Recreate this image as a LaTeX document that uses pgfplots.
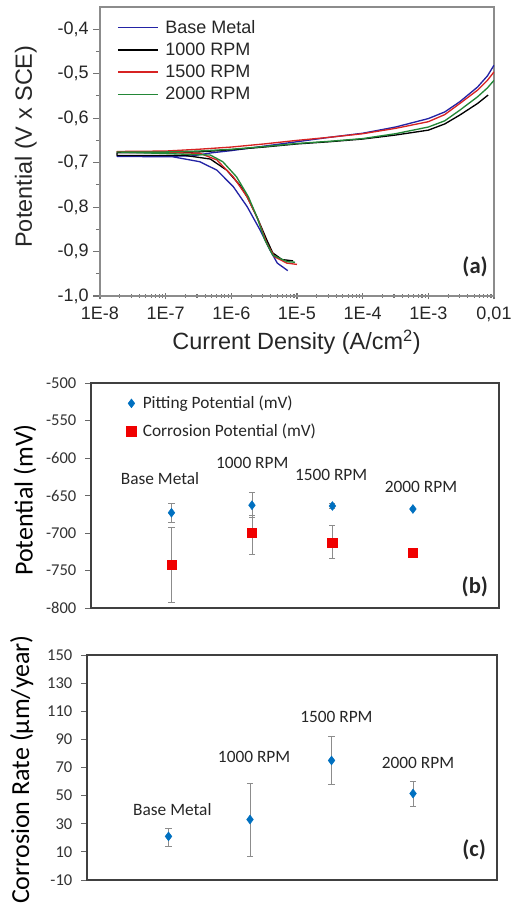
\documentclass[border=0pt]{standalone}
\usepackage{fontspec}
\setmainfont{Liberation Sans}
\newfontfamily\calibri{Carlito}
\usepackage{pgfplots}
\usepackage{pgfplotstable}
\pgfplotsset{compat=1.18}
\definecolor{cblue}{RGB}{35,35,165}
\definecolor{cred}{RGB}{215,35,35}
\definecolor{cgreen}{RGB}{35,135,55}
\definecolor{xlblue}{RGB}{0,112,192}
\definecolor{xlred}{RGB}{240,0,0}

% ---------- panel (a) data: current density (A/cm2), potential (V) ----------
\pgfplotstableread{
x y
7.24e-6 -0.943
5.01e-6 -0.926
3.89e-6 -0.897
2.75e-6 -0.852
1.74e-6 -0.799
1.07e-6 -0.754
6.03e-7 -0.717
3.31e-7 -0.698
1.29e-7 -0.687
1.82e-8 -0.686
2.5e-7 -0.685
5.0e-7 -0.678
1e-6 -0.673
3.16e-6 -0.663
1e-5 -0.653
3.16e-5 -0.643
1e-4 -0.634
3.16e-4 -0.620
1e-3 -0.601
1.78e-3 -0.586
3.02e-3 -0.563
5.62e-3 -0.530
7.94e-3 -0.505
1e-2 -0.481
}\base
\pgfplotstableread{
x y
8.71e-6 -0.921
5.89e-6 -0.918
4.27e-6 -0.903
3.47e-6 -0.874
2.45e-6 -0.822
1.74e-6 -0.777
1.35e-6 -0.751
8.51e-7 -0.717
4.79e-7 -0.692
2.0e-7 -0.684
1.82e-8 -0.684
1.82e-8 -0.678
1e-7 -0.678
3.16e-7 -0.676
1e-6 -0.671
3.16e-6 -0.665
1e-5 -0.658
3.16e-5 -0.653
1e-4 -0.647
3.16e-4 -0.638
1e-3 -0.627
1.78e-3 -0.613
3.02e-3 -0.593
5.62e-3 -0.567
8.13e-3 -0.548
}\rpmA
\pgfplotstableread{
x y
1.0e-5 -0.929
7.0e-6 -0.926
4.57e-6 -0.912
3.47e-6 -0.882
2.57e-6 -0.829
1.74e-6 -0.777
1.07e-6 -0.732
6.03e-7 -0.694
3.31e-7 -0.679
1.82e-8 -0.675
1e-7 -0.674
3.16e-7 -0.670
1e-6 -0.665
3.16e-6 -0.658
1e-5 -0.650
3.16e-5 -0.643
1e-4 -0.635
3.16e-4 -0.623
1e-3 -0.608
1.78e-3 -0.592
3.02e-3 -0.567
5.62e-3 -0.537
7.94e-3 -0.515
1e-2 -0.496
}\rpmB
\pgfplotstableread{
x y
9.33e-6 -0.924
7.08e-6 -0.923
4.27e-6 -0.908
3.24e-6 -0.874
2.45e-6 -0.822
1.82e-6 -0.777
1.20e-6 -0.732
7.41e-7 -0.698
4.79e-7 -0.683
1.82e-8 -0.676
1e-7 -0.676
3.16e-7 -0.674
1e-6 -0.670
3.16e-6 -0.664
1e-5 -0.657
3.16e-5 -0.652
1e-4 -0.646
3.16e-4 -0.635
1e-3 -0.620
1.78e-3 -0.606
3.02e-3 -0.582
5.62e-3 -0.552
7.94e-3 -0.532
1e-2 -0.515
}\rpmC

% ---------- panel (b) data ----------
\pgfplotstableread{
x y ep em
1 -673 13 13
2 -663 17 16
3 -664 3 3
4 -668 0 0
}\pitting
\pgfplotstableread{
x y ep em
1 -742 50 50
2 -700 23 28
3 -713 23 21
4 -726 0 0
}\corrosion

% ---------- panel (c) data ----------
\pgfplotstableread{
x y ep em
1 21 6 7
2 33 26 26
3 75 17 17
4 51.5 9 9
}\rate

\begin{document}
\begin{tikzpicture}[x=1pt,y=1pt]
% ===================== (a) =====================
\begin{axis}[
  at={(75pt,456.75pt)}, anchor=south west, scale only axis,
  width=295.5pt, height=216.75pt,
  xmode=log, xmin=1e-8, xmax=1e-2, ymin=-1.0, ymax=-0.35,
  xtick={1e-8,1e-7,1e-6,1e-5,1e-4,1e-3,1e-2},
  xticklabels={1E-8,1E-7,1E-6,1E-5,1E-4,1E-3,{0,01}},
  ytick={-1.0,-0.9,-0.8,-0.7,-0.6,-0.5,-0.4},
  yticklabels={{-1,0},{-0,9},{-0,8},{-0,7},{-0,6},{-0,5},{-0,4}},
  minor ytick={-0.95,-0.85,-0.75,-0.65,-0.55,-0.45},
  tick pos=left,
  axis line style={black!45, line width=1.1pt},
  tick style={black!55, line width=0.8pt},
  xtick align=center,
  ytick align=outside,
  major tick length=5pt, minor tick length=3pt,
  ticklabel style={font=\fontsize{13.5}{16}\selectfont, text=black!85},
  xticklabel style={yshift=-2pt},
  xlabel={Current Density (A/cm\textsuperscript{2})},
  ylabel={Potential (V x SCE)},
  every axis x label/.style={at={(axis description cs:0.499,-0.159)}, anchor=center,
    font=\fontsize{17.6}{20}\selectfont, text=black!85},
  every axis y label/.style={at={(axis description cs:-0.188,0.517)}, rotate=90, anchor=center,
    font=\fontsize{17.6}{20}\selectfont, text=black!85},
  legend style={at={(0.043,0.965)}, anchor=north west, draw=none, fill=none,
    font=\fontsize{13.5}{16}\selectfont, row sep=1.7pt, inner sep=0pt,
    cells={anchor=west}, text=black!85,
    /tikz/every odd column/.append style={column sep=3pt}},
  legend image code/.code={\draw[#1, line width=1.1pt] (0pt,0pt) -- (30pt,0pt);},
  every axis plot/.append style={line width=1pt, line join=round},
]
\addplot[color=cblue] table {\base};
\addlegendentry{Base Metal}
\addplot[color=black] table {\rpmA};
\addlegendentry{1000 RPM}
\addplot[color=cred] table {\rpmB};
\addlegendentry{1500 RPM}
\addplot[color=cgreen] table {\rpmC};
\addlegendentry{2000 RPM}
\node[font=\calibri\bfseries\fontsize{17}{20}\selectfont, text=black!85] at (rel axis cs:0.952,0.10) {(a)};
\end{axis}

% ===================== (b) =====================
\begin{axis}[
  at={(68.25pt,222.75pt)}, anchor=south west, scale only axis,
  width=306pt, height=168.75pt, clip=false,
  xmin=0, xmax=5.07, ymin=-800, ymax=-500,
  ytick={-800,-750,-700,-650,-600,-550,-500},
  xtick=\empty,
  ytick pos=left, ytick align=outside, major tick length=4.5pt,
  axis line style={black!75, line width=0.8pt},
  tick style={black!60, line width=0.6pt},
  /pgf/number format/assume math mode=true,
  yticklabel style={font=\calibri\fontsize{12.4}{14}\selectfont, text=black!80, xshift=-3pt},
  ylabel={Potential (mV)},
  every axis y label/.style={at={(axis description cs:-0.162,0.48)}, rotate=90, anchor=center,
    font=\calibri\fontsize{19.5}{22}\selectfont},
  legend style={at={(0.087,0.955)}, anchor=north west, draw=none, fill=none,
    font=\calibri\fontsize{13}{15.6}\selectfont, row sep=6pt, inner sep=0pt,
    cells={anchor=west}, text=black!85,
    /tikz/every odd column/.append style={column sep=3pt}},
  legend image code/.code={\draw[#1] plot coordinates {(2pt,0pt)};},
]
\addplot[only marks, mark=diamond*, mark size=3.3pt, color=xlblue,
  error bars/.cd, y dir=both, y explicit,
  error bar style={black!45, line width=0.6pt, mark size=2.3pt}]
  table[x=x, y=y, y error plus=ep, y error minus=em] {\pitting};
\addlegendentry{Pitting Potential (mV)}
\addplot[only marks, mark=square*, mark size=3.5pt, color=xlred,
  error bars/.cd, y dir=both, y explicit,
  error bar style={black!45, line width=0.6pt, mark size=2.3pt}]
  table[x=x, y=y, y error plus=ep, y error minus=em] {\corrosion};
\addlegendentry{Corrosion Potential (mV)}
\begin{scope}[every node/.style={font=\calibri\fontsize{13}{15.6}\selectfont, text=black!85}]
\node at (axis cs:0.858,-627) {Base Metal};
\node at (axis cs:2.004,-607) {1000 RPM};
\node at (axis cs:2.984,-623) {1500 RPM};
\node at (axis cs:4.10,-639) {2000 RPM};
\end{scope}
\node[font=\calibri\bfseries\fontsize{17}{20}\selectfont, text=black!85] at (axis cs:4.77,-771.6) {(b)};
\end{axis}

% ===================== (c) =====================
\begin{axis}[
  at={(65.25pt,18.75pt)}, anchor=south west, scale only axis,
  width=307.5pt, height=168.75pt, clip=false,
  xmin=0, xmax=5.03, ymin=-10, ymax=150,
  ytick={-10,10,30,50,70,90,110,130,150},
  xtick=\empty,
  ytick pos=left, ytick align=outside, major tick length=4.5pt,
  axis line style={black!75, line width=0.8pt},
  tick style={black!60, line width=0.6pt},
  /pgf/number format/assume math mode=true,
  yticklabel style={font=\calibri\fontsize{12.4}{14}\selectfont, text=black!80, xshift=-3pt},
  ylabel={Corrosion Rate (µm/year)},
  every axis y label/.style={at={(axis description cs:-0.159,0.491)}, rotate=90, anchor=center,
    font=\calibri\fontsize{19.5}{22}\selectfont},
]
\addplot[only marks, mark=diamond*, mark size=3.3pt, color=xlblue,
  error bars/.cd, y dir=both, y explicit,
  error bar style={black!45, line width=0.6pt, mark size=2.3pt}]
  table[x=x, y=y, y error plus=ep, y error minus=em] {\rate};
\begin{scope}[every node/.style={font=\calibri\fontsize{13}{15.6}\selectfont, text=black!85}]
\node at (axis cs:1.047,39.8) {Base Metal};
\node at (axis cs:2.05,77.7) {1000 RPM};
\node at (axis cs:3.06,105.7) {1500 RPM};
\node at (axis cs:4.06,73.4) {2000 RPM};
\end{scope}
\node[font=\calibri\bfseries\fontsize{17}{20}\selectfont, text=black!85] at (axis cs:4.75,11.3) {(c)};
\end{axis}

\pgfresetboundingbox
\path[use as bounding box] (0pt,0pt) rectangle (390pt,678.75pt);
\end{tikzpicture}
\end{document}
